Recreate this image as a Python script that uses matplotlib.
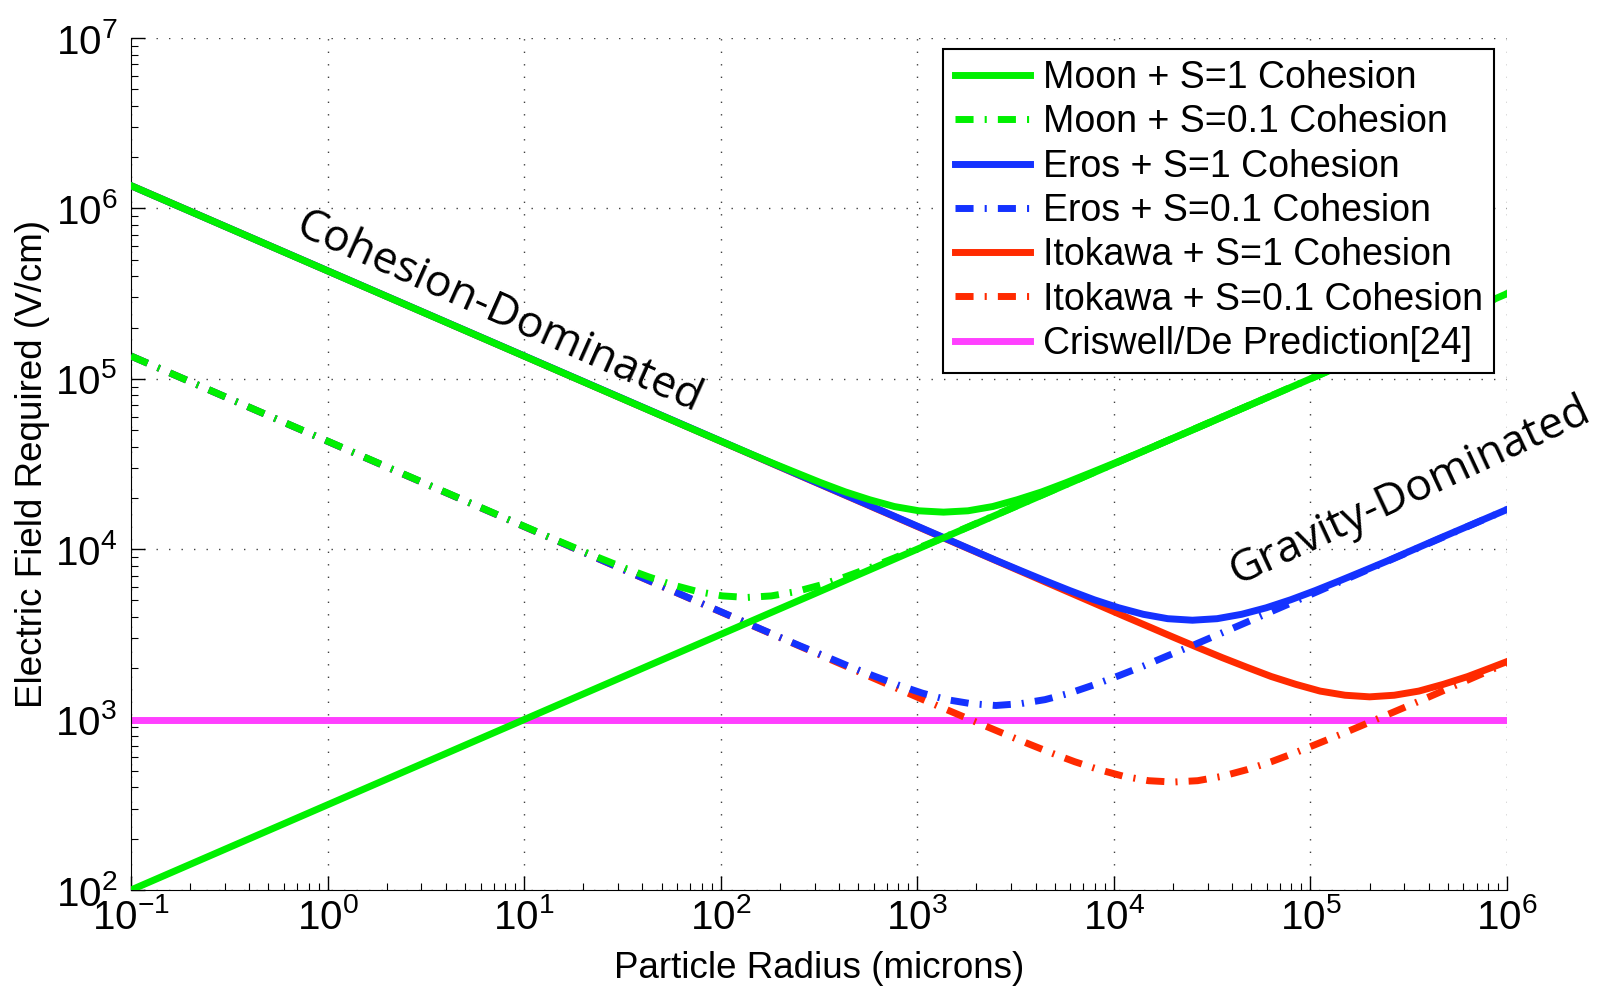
import matplotlib
matplotlib.use('Agg')
import matplotlib.pyplot as plt

# Values: particle radius (microns) -> required field (V/cm).
# Points are denser around each curve's minimum, sparse where the curve is straight.
moon_s1_r = [0.1, 76.4, 136, 181, 242, 322, 430, 573, 764, 1020, 1360, 1810, 2420,
             3220, 4300, 5730, 7640, 10200, 13600, 24200, 1e6]
moon_s1_e = [1.36e6, 4.92e4, 3.70e4, 3.22e4, 2.81e4, 2.46e4, 2.17e4, 1.95e4, 1.78e4,
             1.68e4, 1.65e4, 1.68e4, 1.78e4, 1.95e4, 2.17e4, 2.46e4, 2.81e4, 3.22e4,
             3.70e4, 4.92e4, 3.16e5]

moon_s01_r = [0.1, 7.64, 13.6, 18.1, 24.2, 32.2, 43.0, 57.3, 76.4, 102, 136, 181, 242,
              322, 430, 573, 764, 1020, 1360, 2420, 1e6]
moon_s01_e = [1.36e5, 1.56e4, 1.17e4, 1.02e4, 8.88e3, 7.78e3, 6.88e3, 6.16e3, 5.64e3,
              5.32e3, 5.21e3, 5.32e3, 5.64e3, 6.16e3, 6.88e3, 7.78e3, 8.88e3, 1.02e4,
              1.17e4, 1.56e4, 3.16e5]

eros_s1_r = [0.1, 1410, 2510, 3350, 4470, 5960, 7940, 10600, 14100, 18800, 25100, 33500,
             44700, 59600, 79400, 1.06e5, 1.41e5, 1.88e5, 2.51e5, 4.47e5, 1e6]
eros_s1_e = [1.36e6, 1.15e4, 8.61e3, 7.49e3, 6.53e3, 5.72e3, 5.05e3, 4.53e3, 4.15e3,
             3.91e3, 3.83e3, 3.91e3, 4.15e3, 4.53e3, 5.05e3, 5.72e3, 6.53e3, 7.49e3,
             8.61e3, 1.15e4, 1.71e4]

eros_s01_r = [0.1, 141, 251, 335, 447, 596, 794, 1060, 1410, 1880, 2510, 3350, 4470,
              5960, 7940, 10600, 14100, 18800, 25100, 44700, 1e6]
eros_s01_e = [1.36e5, 3.62e3, 2.72e3, 2.37e3, 2.06e3, 1.81e3, 1.60e3, 1.43e3, 1.31e3,
              1.24e3, 1.21e3, 1.24e3, 1.31e3, 1.43e3, 1.60e3, 1.81e3, 2.06e3, 2.37e3,
              2.72e3, 3.62e3, 1.71e4]

itokawa_s1_r = [0.1, 11200, 20000, 26700, 35600, 47400, 63200, 84300, 1.12e5, 1.50e5,
                2.0e5, 2.67e5, 3.56e5, 4.74e5, 6.32e5, 8.43e5, 1e6]
itokawa_s1_e = [1.36e6, 4.06e3, 3.05e3, 2.65e3, 2.31e3, 2.03e3, 1.79e3, 1.61e3, 1.47e3,
                1.39e3, 1.36e3, 1.39e3, 1.47e3, 1.61e3, 1.79e3, 2.03e3, 2.19e3]

itokawa_s01_r = [0.1, 1120, 2000, 2670, 3560, 4740, 6320, 8430, 11200, 15000, 20000,
                 26700, 35600, 47400, 63200, 84300, 1.12e5, 1.50e5, 2.0e5, 3.56e5, 1e6]
itokawa_s01_e = [1.36e5, 1.28e3, 965, 839, 732, 641, 566, 508, 465, 438, 430, 438, 465,
                 508, 566, 641, 732, 839, 965, 1.28e3, 2.15e3]

# Moon gravity-only asymptote (straight green line, not in the legend)
grav_r = [0.1, 6e4]
grav_e = [100, 7.75e4]

# Criswell/De prediction
criswell_r = [0.1, 1e6]
criswell_e = [1e3, 1e3]

labels = ['Moon + S=1 Cohesion', 'Moon + S=0.1 Cohesion', 'Eros + S=1 Cohesion',
          'Eros + S=0.1 Cohesion', 'Itokawa + S=1 Cohesion', 'Itokawa + S=0.1 Cohesion',
          'Criswell/De Prediction[24]']

green = '#00f000'
blue = '#1432ff'
red = '#ff2a00'
magenta = '#ff40ff'

plt.rcParams['font.family'] = ['Liberation Sans', 'DejaVu Sans']
plt.rcParams['mathtext.fontset'] = 'custom'
plt.rcParams['mathtext.rm'] = 'Liberation Sans'
plt.rcParams['mathtext.it'] = 'Liberation Sans'
plt.rcParams['mathtext.bf'] = 'Liberation Sans'

fig = plt.figure(figsize=(16.08, 9.91), dpi=100)
ax = fig.add_axes([131 / 1608, 1 - 890 / 991, 1376 / 1608, 852 / 991])

lw = 5
dashdot = (0, (2.6, 1.6, 0.3, 1.6))

h1, = ax.plot(moon_s1_r, moon_s1_e, color=green, lw=lw, zorder=6)
h2, = ax.plot(moon_s01_r, moon_s01_e, color=green, lw=lw, linestyle=dashdot, zorder=5)
h3, = ax.plot(eros_s1_r, eros_s1_e, color=blue, lw=lw, zorder=4)
h4, = ax.plot(eros_s01_r, eros_s01_e, color=blue, lw=lw, linestyle=dashdot, zorder=4)
h5, = ax.plot(itokawa_s1_r, itokawa_s1_e, color=red, lw=lw, zorder=3)
h6, = ax.plot(itokawa_s01_r, itokawa_s01_e, color=red, lw=lw, linestyle=dashdot, zorder=3)
h7, = ax.plot(criswell_r, criswell_e, color=magenta, lw=lw, zorder=2)
ax.plot(grav_r, grav_e, color=green, lw=lw, zorder=7)

ax.set_xscale('log')
ax.set_yscale('log')
ax.set_xlim(0.1, 1e6)
ax.set_ylim(1e2, 1e7)

# MATLAB-like look: left/bottom axis lines only, dotted major grid, inward ticks
ax.spines['top'].set_visible(False)
ax.spines['right'].set_visible(False)
ax.grid(True, which='major', linestyle=(0, (1, 8)), color='0.25', lw=1.0)
ax.tick_params(which='both', direction='in', top=False, right=False, labelsize=29)
ax.tick_params(which='major', length=10, width=1)
ax.tick_params(which='minor', length=5, width=0.8)
ax.tick_params(axis='x', pad=6)
ax.tick_params(axis='y', pad=10)

ax.set_xlabel('Particle Radius (microns)', fontsize=26.5, labelpad=10)
ax.set_ylabel('Electric Field Required (V/cm)', fontsize=26.5, labelpad=4)

leg = ax.legend([h1, h2, h3, h4, h5, h6, h7], labels, loc='upper right',
                bbox_to_anchor=(1494 / 1608, 1 - 49 / 991), bbox_transform=fig.transFigure,
                borderaxespad=0, fontsize=27, handlelength=2.0, handletextpad=0.35,
                labelspacing=0.22, borderpad=0.3, fancybox=False, framealpha=1,
                edgecolor='black')
leg.get_frame().set_linewidth(1.5)
leg.set_zorder(10)

ax.text(7.45, 2.43e5, 'Cohesion-Dominated', rotation=-24, ha='center', va='center',
        fontsize=32, family=['Open Sans', 'DejaVu Sans'], zorder=9)
ax.text(3.2e5, 2.17e4, 'Gravity-Dominated', rotation=25, ha='center', va='center',
        fontsize=32, family=['Open Sans', 'DejaVu Sans'], zorder=9)

fig.savefig('out.png', dpi=100)
